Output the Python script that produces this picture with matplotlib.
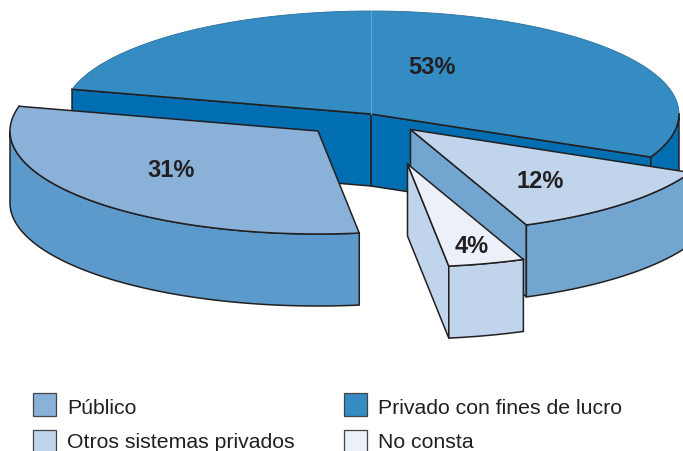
#!/usr/bin/env python3

"""
Exploded 3D style pie chart, drawn by hand since matplotlib has no real 3D pie.
"""

import numpy as np
import matplotlib
matplotlib.use("Agg")
import matplotlib.pyplot as plt
from matplotlib.patches import Polygon, Rectangle

plt.rcParams['font.family'] = ['Liberation Sans', 'DejaVu Sans']

labels = ["Privado con fines de lucro", "Público", "No consta", "Otros sistemas privados"]
values = [53, 31, 4, 12]
top_colors = ["#348cc3", "#8ab1d8", "#ecf1f9", "#c0d5eb"]
wall_colors = ["#006eb0", "#5b9aca", "#c0d5eb", "#72a6d0"]
offsets = [(0, 0), (-53, 17), (36.5, 50), (39.5, 15.5)]
label_pos = [(432, 68), (171, 171), (472, 247), (540, 182)]

legend_order = [1, 0, 3, 2]
legend_x = [33, 344]
legend_y = [394, 431]
legend_text_y = [408.5, 442.5]

CX, CY = 371, 115
RX, RY = 308, 103
DEPTH = 72
START = -24.7
EDGE = "#231f20"

fig = plt.figure(figsize=(6.83, 4.52), dpi=100)
ax = fig.add_axes([0, 0, 1, 1])
ax.set_xlim(0, 683)
ax.set_ylim(452, 0)
ax.axis("off")


def arc(cx, cy, a0, a1, drop=0):
    t = np.radians(np.linspace(a0, a1, 120))
    return np.column_stack([cx + RX * np.cos(t), cy - RY * np.sin(t) + drop])


def add_poly(pts, color, z, lw=1.1, edge=EDGE):
    ax.add_patch(Polygon(pts, closed=True, facecolor=color, edgecolor=edge,
                         linewidth=lw, joinstyle="round", zorder=z))


# wedge angles from the percentages
spans = np.array(values) / sum(values) * 360
starts = START + np.concatenate([[0], np.cumsum(spans)[:-1]])
wedges = []
for i in range(len(values)):
    a0 = starts[i]
    a1 = a0 + spans[i]
    wedges.append((i, a0, a1, CX + offsets[i][0], CY + offsets[i][1]))

# back to front: the big slice first, then 12%, 31%, 4%
for z, idx in enumerate([0, 3, 1, 2]):
    i, a0, a1, cx, cy = wedges[idx]
    z = z * 10 + 1
    wall = wall_colors[i]
    vertex = np.array([cx, cy])

    # cut faces, only the ones turned to the viewer
    for ang, normal in ((a0, a0 - 90), (a1, a1 + 90)):
        if np.sin(np.radians(normal)) < 0:
            rim = arc(cx, cy, ang, ang + 1e-6)[0]
            d = np.array([0, DEPTH])
            add_poly([vertex, rim, rim + d, vertex + d], wall, z)

    # outer wall, only the part with the rim towards the front
    for b0, b1 in ((a0, a1), (a0 + 360, a1 + 360), (a0 - 360, a1 - 360)):
        lo, hi = max(b0, 180), min(b1, 360)
        if lo < hi:
            add_poly(np.vstack([arc(cx, cy, lo, hi), arc(cx, cy, hi, lo, DEPTH)]), wall, z + 1)

    # top face
    top = np.vstack([[vertex], arc(cx, cy, a0, a1)])
    ax.add_patch(Polygon(top, closed=True, facecolor=top_colors[i], edgecolor="none", zorder=z + 2))
    ax.plot([arc(cx, cy, a0, a0 + 1e-6)[0, 0], cx, arc(cx, cy, a1, a1 + 1e-6)[0, 0]],
            [arc(cx, cy, a0, a0 + 1e-6)[0, 1], cy, arc(cx, cy, a1, a1 + 1e-6)[0, 1]],
            color=EDGE, lw=1.1, zorder=z + 3)
    rim = arc(cx, cy, a0, a1)
    if i == 0:
        ax.plot(rim[:, 0], rim[:, 1], color="#2a6f9e", lw=0.6, zorder=z + 3)
        # faint seam on the big slice
        ax.plot([cx, cx], [cy, cy - RY], color="#5fa3cf", lw=0.8, zorder=z + 3)
        # dark rim only where the wall shows
        front = arc(cx, cy, a0, 0)
        ax.plot(front[:, 0], front[:, 1], color=EDGE, lw=1.1, zorder=z + 3)
    else:
        ax.plot(rim[:, 0], rim[:, 1], color=EDGE, lw=1.1, zorder=z + 3)

    ax.text(label_pos[i][0], label_pos[i][1], "%d%%" % values[i], fontsize=17, fontweight="bold",
            color=EDGE, ha="center", va="center", zorder=100)

# legend, second row of swatches runs off the bottom of the picture as in the source
for n, idx in enumerate(legend_order):
    x = legend_x[n % 2]
    y = legend_y[n // 2]
    ax.add_patch(Rectangle((x, y), 23, 23, facecolor=top_colors[idx], edgecolor="#444444",
                           linewidth=0.9, zorder=100))
    ax.text(x + 34, legend_text_y[n // 2], labels[idx], fontsize=15.3, color=EDGE,
            ha="left", va="center", zorder=100)

fig.savefig("out.png", dpi=100)
plt.close(fig)
